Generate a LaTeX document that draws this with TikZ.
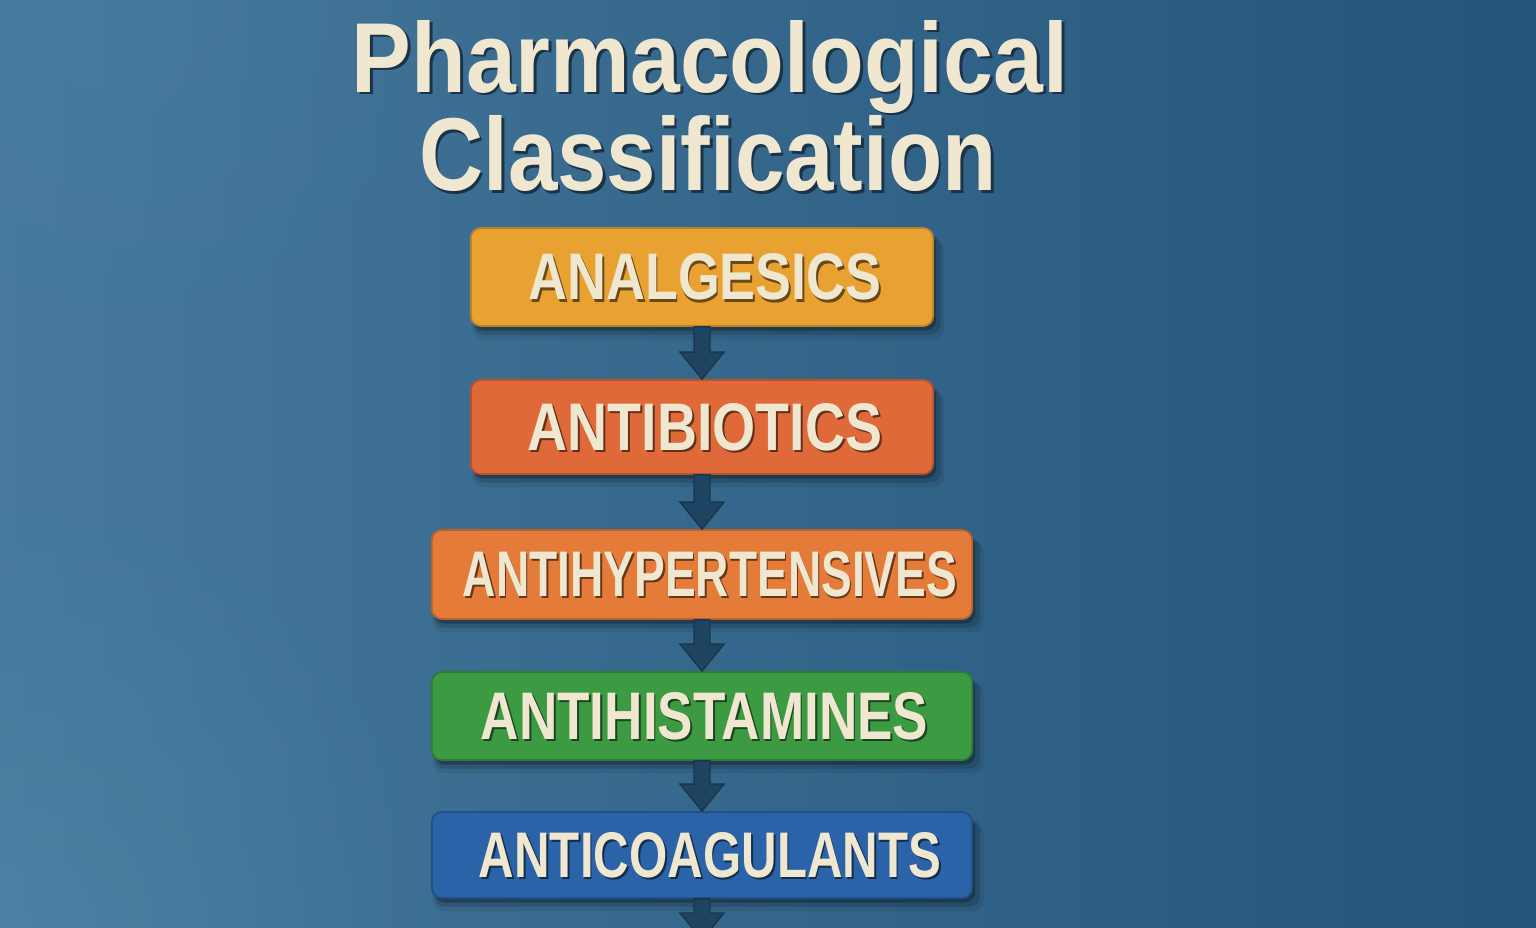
\documentclass[tikz,border=0pt]{standalone}
\usepackage{fontspec}
\setmainfont{Liberation Sans}
\usetikzlibrary{calc,shadows,fadings}
\definecolor{bgL}{HTML}{46799C}
\definecolor{bgR}{HTML}{23547A}
\definecolor{bgLight}{HTML}{5590AE}
\definecolor{cream}{HTML}{EFE7D0}
\definecolor{ttlshadow}{HTML}{1A3348}
\definecolor{cA}{HTML}{E9A232}
\definecolor{cB}{HTML}{E0693A}
\definecolor{cC}{HTML}{E57B38}
\definecolor{cD}{HTML}{3C9A42}
\definecolor{cE}{HTML}{2B63A8}
\definecolor{arrowc}{HTML}{1F4462}
\tikzfading[name=radfade, inner color=transparent!0, outer color=transparent!100]
\newcommand{\lbl}[5]{\hspace*{#5}\resizebox{#1}{#2}{\fontsize{20pt}{24pt}\selectfont\bfseries\makebox[0pt][l]{\smash{\hspace{0.035em}\raisebox{-0.035em}{\color{#3}#4}}}\color{cream}#4}}
\newcommand{\ttl}[3]{\resizebox{#1}{#2}{\fontsize{30pt}{36pt}\selectfont\bfseries\makebox[0pt][l]{\smash{\hspace{0.03em}\raisebox{-0.03em}{\color{ttlshadow}#3}}}\color{cream}#3}}
\newcommand{\flowarrow}[2]{%
  \path let \p1=#1, \p2=#2 in
    [fill=arrowc, draw=arrowc!80!black, line width=0.4pt]
    (\x1-0.08cm,\y1) -- (\x1+0.08cm,\y1) -- (\x1+0.08cm,\y2+0.27cm) --
    (\x1+0.22cm,\y2+0.27cm) -- (\x1,\y2) -- (\x1-0.22cm,\y2+0.27cm) --
    (\x1-0.08cm,\y2+0.27cm) -- cycle;}
\tikzset{
  catbox/.style={rounded corners=0.1cm, inner sep=0pt, line width=0.5pt,
    drop shadow={shadow xshift=0.06cm, shadow yshift=-0.12cm, opacity=0.08, fill=black, shadow scale=1.02},
    drop shadow={shadow xshift=0.05cm, shadow yshift=-0.08cm, opacity=0.14, fill=black, shadow scale=1.01},
    drop shadow={shadow xshift=0.03cm, shadow yshift=-0.045cm, opacity=0.25, fill=black}},
}
\begin{document}
\begin{tikzpicture}[x=0.01cm,y=-0.01cm]
\useasboundingbox (0,0) rectangle (1536,927);
\shade[left color=bgL, right color=bgR] (0,0) rectangle (1536,927);
\fill[bgLight, opacity=0.4, path fading=radfade] (0,927) circle (4.5cm);
\fill[bgLight, opacity=0.15, path fading=radfade] (100,0) circle (4cm);
% title
\node[anchor=base, inner sep=0pt] (t1) at (710,92) {\ttl{7.16cm}{0.72cm}{Pharmacological}};
\node[anchor=base, inner sep=0pt] (t2) at (708,190) {\ttl{5.77cm}{0.75cm}{Classification}};
% boxes
\node[catbox, fill=cA, draw=cA!80!black, minimum width=4.62cm, minimum height=0.98cm] (analg) at (702,277) {\lbl{3.53cm}{0.46cm}{cA!45!black}{ANALGESICS}{0.06cm}};
\node[catbox, fill=cB, draw=cB!80!black, minimum width=4.62cm, minimum height=0.94cm] (antib) at (702,427) {\lbl{3.54cm}{0.47cm}{cB!45!black}{ANTIBIOTICS}{0.06cm}};
\node[catbox, fill=cC, draw=cC!80!black, minimum width=5.40cm, minimum height=0.89cm] (antihy) at (702,574.5) {\lbl{4.94cm}{0.45cm}{cC!45!black}{ANTIHYPERTENSIVES}{0.16cm}};
\node[catbox, fill=cD, draw=cD!80!black, minimum width=5.40cm, minimum height=0.88cm] (antihi) at (702,716) {\lbl{4.47cm}{0.47cm}{cD!45!black}{ANTIHISTAMINES}{0.05cm}};
\node[catbox, fill=cE, draw=cE!80!black, minimum width=5.40cm, minimum height=0.86cm] (antic) at (702,855) {\lbl{4.62cm}{0.45cm}{cE!45!black}{ANTICOAGULANTS}{0.16cm}};
\coordinate (endpt) at (701,940);
% arrows
\flowarrow{(analg.south)}{(antib.north)}
\flowarrow{(antib.south)}{(antihy.north)}
\flowarrow{(antihy.south)}{(antihi.north)}
\flowarrow{(antihi.south)}{(antic.north)}
\flowarrow{(antic.south)}{(endpt)}
\end{tikzpicture}
\end{document}
